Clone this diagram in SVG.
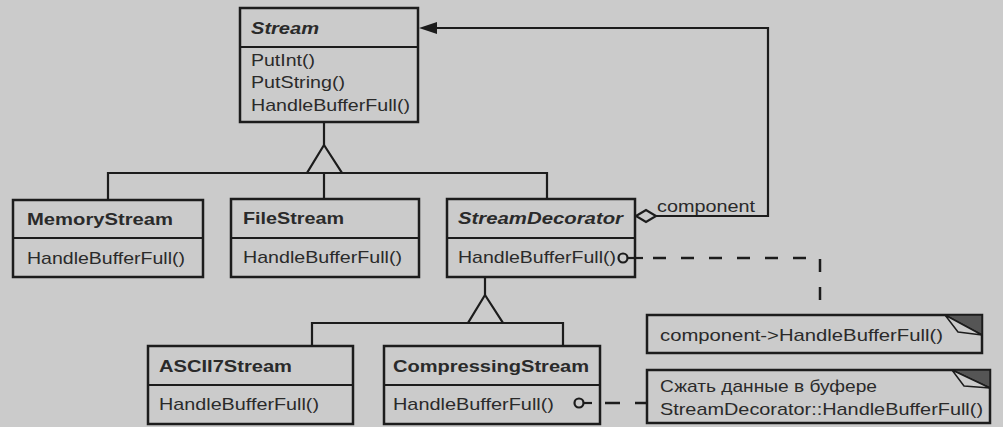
<svg xmlns="http://www.w3.org/2000/svg" width="1003" height="427" viewBox="0 0 1003 427">
<style>
.box{fill:#cbcbcb;stroke:#1c1c1c;stroke-width:2.5}
.ln{fill:none;stroke:#1c1c1c;stroke-width:2.2}
.dash{fill:none;stroke:#1c1c1c;stroke-width:2.5;stroke-dasharray:13 15}
.t{font-family:"Liberation Sans",Arial,sans-serif;font-size:17px;fill:#2a2a2a}
.b{font-weight:bold}
.i{font-style:italic}
.fold{fill:#555;stroke:#1c1c1c;stroke-width:1.5}
.flap{fill:#cbcbcb;stroke:#1c1c1c;stroke-width:1.5;stroke-linejoin:round}
.knob{fill:#cbcbcb;stroke:#1c1c1c;stroke-width:2.2}
</style>
<rect width="1003" height="427" fill="#cbcbcb"/>

<g id="Stream">
<rect class="box" x="240" y="8" width="178" height="114"/>
<line class="ln" x1="240" y1="47" x2="418" y2="47" stroke-width="2.5"/>
<text class="t b i" x="251" y="34" textLength="68" lengthAdjust="spacingAndGlyphs">Stream</text>
<text class="t" x="251" y="66" textLength="64" lengthAdjust="spacingAndGlyphs">PutInt()</text>
<text class="t" x="251" y="88" textLength="94" lengthAdjust="spacingAndGlyphs">PutString()</text>
<text class="t" x="251" y="111" textLength="159" lengthAdjust="spacingAndGlyphs">HandleBufferFull()</text>
</g>

<g id="MemoryStream">
<rect class="box" x="13" y="200" width="190" height="77"/>
<line class="ln" x1="13" y1="238" x2="203" y2="238" stroke-width="2.5"/>
<text class="t b" x="27" y="225" textLength="146" lengthAdjust="spacingAndGlyphs">MemoryStream</text>
<text class="t" x="27" y="264" textLength="158" lengthAdjust="spacingAndGlyphs">HandleBufferFull()</text>
</g>

<g id="FileStream">
<rect class="box" x="231" y="199" width="188" height="78"/>
<line class="ln" x1="231" y1="238" x2="419" y2="238" stroke-width="2.5"/>
<text class="t b" x="243" y="224" textLength="101" lengthAdjust="spacingAndGlyphs">FileStream</text>
<text class="t" x="243" y="263" textLength="159" lengthAdjust="spacingAndGlyphs">HandleBufferFull()</text>
</g>

<g id="StreamDecorator">
<rect class="box" x="447" y="199" width="188" height="78"/>
<line class="ln" x1="447" y1="238" x2="635" y2="238" stroke-width="2.5"/>
<text class="t b i" x="458" y="224" textLength="165" lengthAdjust="spacingAndGlyphs">StreamDecorator</text>
<text class="t" x="458" y="263" textLength="158" lengthAdjust="spacingAndGlyphs">HandleBufferFull()</text>
</g>

<g id="ASCII7Stream">
<rect class="box" x="148" y="346" width="205" height="78"/>
<line class="ln" x1="148" y1="385" x2="353" y2="385" stroke-width="2.5"/>
<text class="t b" x="159" y="372" textLength="133" lengthAdjust="spacingAndGlyphs">ASCII7Stream</text>
<text class="t" x="159" y="410" textLength="160" lengthAdjust="spacingAndGlyphs">HandleBufferFull()</text>
</g>

<g id="CompressingStream">
<rect class="box" x="384" y="346" width="216" height="78"/>
<line class="ln" x1="384" y1="385" x2="600" y2="385" stroke-width="2.5"/>
<text class="t b" x="393" y="372" textLength="196" lengthAdjust="spacingAndGlyphs">CompressingStream</text>
<text class="t" x="393" y="410" textLength="161" lengthAdjust="spacingAndGlyphs">HandleBufferFull()</text>
</g>

<g id="note1">
<path class="box" d="M647,315 H982 V353 H647 Z"/>
<path class="fold" d="M945,315 H982 V335 Z"/>
<path class="flap" d="M945,315 L958,332 L982,335 Z"/>
<text class="t" x="660" y="341" textLength="283" lengthAdjust="spacingAndGlyphs">component-&gt;HandleBufferFull()</text>
</g>

<g id="note2">
<path class="box" d="M647,370 H990 V423 H647 Z"/>
<path class="fold" d="M952,370 H990 V388 Z"/>
<path class="flap" d="M952,370 L964,386 L990,388 Z"/>
<text class="t" x="660" y="392" textLength="217" lengthAdjust="spacingAndGlyphs">Сжать данные в буфере</text>
<text class="t" x="660" y="415" textLength="323" lengthAdjust="spacingAndGlyphs">StreamDecorator::HandleBufferFull()</text>
</g>

<g id="connectors">
<!-- generalization upper -->
<path class="ln" d="M324,122 V145"/>
<path class="ln" d="M324,145 L307,173 L342,173 Z" fill="#cbcbcb"/>
<path class="ln" d="M108,199 V173 H547 V199"/>
<path class="ln" d="M324,173 V199"/>
<!-- generalization lower -->
<path class="ln" d="M485,277 V295"/>
<path class="ln" d="M485,295 L468,323 L503,323 Z" fill="#cbcbcb"/>
<path class="ln" d="M312,346 V323 H563 V346"/>
<!-- composition -->
<path class="ln" d="M656,216 H768 V28 H434"/>
<path d="M419,28 L437,22 L437,34 Z" fill="#1c1c1c"/>
<path d="M636,216 L646,210 L656,216 L646,222 Z" fill="#cbcbcb" stroke="#1c1c1c" stroke-width="2.2"/>
<text class="t" x="657" y="212" textLength="98" lengthAdjust="spacingAndGlyphs">component</text>
<!-- note link 1 -->
<path class="ln" d="M627.5,258 H643"/>
<circle class="knob" cx="623" cy="258" r="4.5"/>
<path class="dash" d="M653,258 H820 V315"/>
<!-- note link 2 -->
<path class="ln" d="M583.5,403 H592"/>
<circle class="knob" cx="579" cy="403" r="4.5"/>
<path class="dash" d="M605,403 H647" style="stroke-dasharray:15 15"/>
</g>
</svg>
